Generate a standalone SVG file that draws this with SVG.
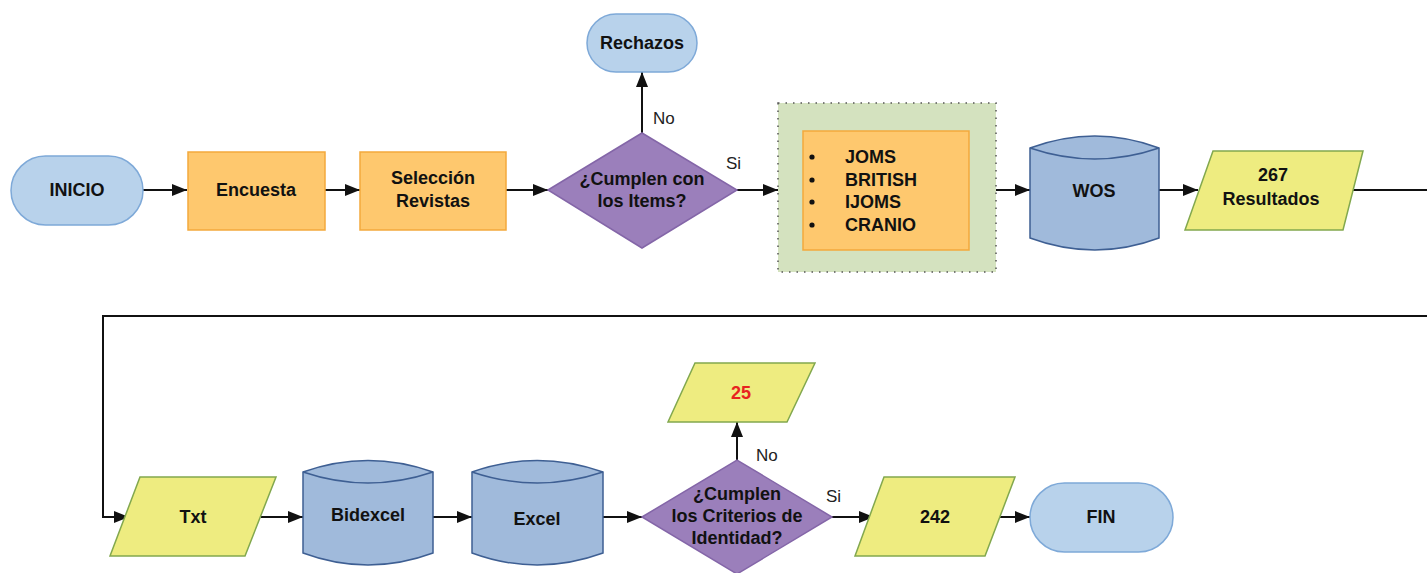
<svg xmlns="http://www.w3.org/2000/svg" width="1427" height="573" viewBox="0 0 1427 573">
<style>
.t{font-family:"Liberation Sans",Arial,sans-serif;font-weight:bold;font-size:18px;fill:#111;text-anchor:middle;dominant-baseline:central}
.lbl{font-family:"Liberation Sans",Arial,sans-serif;font-size:17px;fill:#222;dominant-baseline:central}
.term{fill:#b8d2eb;stroke:#7ea9d8;stroke-width:1.5}
.proc{fill:#fec86e;stroke:#f3a93c;stroke-width:1.5}
.dec{fill:#9b7fbb;stroke:#8466a8;stroke-width:1.5}
.db{fill:#a0badb;stroke:#3e5f93;stroke-width:1.5}
.io{fill:#eeec80;stroke:#82a84e;stroke-width:1.5}
.c{fill:none;stroke:#111;stroke-width:2}
</style>
<defs>
<marker id="ah" viewBox="0 0 15 12" refX="15" refY="6" markerWidth="15" markerHeight="12" markerUnits="userSpaceOnUse" orient="auto">
<path d="M0,0 L15,6 L0,12 z" fill="#111"/>
</marker>
</defs>
<rect width="1427" height="573" fill="#fff"/>
<g id="connectors">
<line class="c" x1="143" y1="190" x2="187" y2="190" marker-end="url(#ah)"/>
<line class="c" x1="325" y1="190" x2="360" y2="190" marker-end="url(#ah)"/>
<line class="c" x1="506" y1="190" x2="548" y2="190" marker-end="url(#ah)"/>
<line class="c" x1="642" y1="133" x2="642" y2="72" marker-end="url(#ah)"/>
<line class="c" x1="737" y1="190" x2="778" y2="190" marker-end="url(#ah)"/>
<line class="c" x1="996" y1="190" x2="1030" y2="190" marker-end="url(#ah)"/>
<line class="c" x1="1159" y1="190" x2="1198" y2="190" marker-end="url(#ah)"/>
<polyline class="c" points="1343,190 1427,190"/>
<polyline class="c" points="1427,316 103,316 103,517 129,517" marker-end="url(#ah)"/>
<line class="c" x1="261" y1="517" x2="303" y2="517" marker-end="url(#ah)"/>
<line class="c" x1="433" y1="517" x2="472" y2="517" marker-end="url(#ah)"/>
<line class="c" x1="603" y1="517" x2="642" y2="517" marker-end="url(#ah)"/>
<line class="c" x1="737" y1="460" x2="737" y2="422" marker-end="url(#ah)"/>
<line class="c" x1="832" y1="517" x2="874" y2="517" marker-end="url(#ah)"/>
<line class="c" x1="1000" y1="517" x2="1030" y2="517" marker-end="url(#ah)"/>
<text class="lbl" x="653" y="118">No</text>
<text class="lbl" x="726" y="163">Si</text>
<text class="lbl" x="756" y="455">No</text>
<text class="lbl" x="826" y="496">Si</text>
</g>
<g id="inicio">
<rect class="term" x="11" y="156" width="132" height="69" rx="34.5"/>
<text class="t" x="77" y="190">INICIO</text>
</g>
<g id="encuesta">
<rect class="proc" x="188" y="152" width="137" height="78"/>
<text class="t" x="256" y="190">Encuesta</text>
</g>
<g id="seleccion">
<rect class="proc" x="360" y="152" width="146" height="78"/>
<text class="t" x="433" y="178">Selección</text>
<text class="t" x="433" y="201">Revistas</text>
</g>
<g id="decision1">
<polygon class="dec" points="548,190 642,133 737,190 642,248"/>
<text class="t" x="642" y="179">¿Cumplen con</text>
<text class="t" x="642" y="201">los Items?</text>
</g>
<g id="rechazos">
<rect class="term" x="587" y="14" width="110" height="58" rx="29"/>
<text class="t" x="642" y="43">Rechazos</text>
</g>
<g id="revistas">
<rect x="778" y="103" width="218" height="169" fill="#d4e2bf" stroke="#555" stroke-width="1.5" stroke-dasharray="1.5,6"/>
<rect class="proc" x="803" y="131" width="166" height="119"/>
<circle cx="812" cy="157" r="2.6" fill="#111"/>
<circle cx="812" cy="180" r="2.6" fill="#111"/>
<circle cx="812" cy="202" r="2.6" fill="#111"/>
<circle cx="812" cy="225" r="2.6" fill="#111"/>
<text class="t" x="845" y="157" style="text-anchor:start">JOMS</text>
<text class="t" x="845" y="180" style="text-anchor:start">BRITISH</text>
<text class="t" x="845" y="202" style="text-anchor:start">IJOMS</text>
<text class="t" x="845" y="225" style="text-anchor:start">CRANIO</text>
</g>
<g id="wos">
<path class="db" d="M1030,148 Q1095,124 1159,148 L1159,238 Q1095,262 1030,238 Z"/>
<path class="db" d="M1030,148 Q1095,170 1159,148" fill="none"/>
<text class="t" x="1094" y="191">WOS</text>
</g>
<g id="resultados">
<polygon class="io" points="1213,151 1363,151 1343,230 1185,230"/>
<text class="t" x="1273" y="175">267</text>
<text class="t" x="1271" y="199">Resultados</text>
</g>
<g id="txt">
<polygon class="io" points="140,477 276,477 245,556 110,556"/>
<text class="t" x="193" y="517">Txt</text>
</g>
<g id="bidexcel">
<path class="db" d="M303,472 Q368,449 433,472 L433,553 Q368,577 303,553 Z"/>
<path class="db" d="M303,472 Q368,494 433,472" fill="none"/>
<text class="t" x="368" y="515">Bidexcel</text>
</g>
<g id="excel">
<path class="db" d="M472,472 Q537,449 603,472 L603,553 Q537,577 472,553 Z"/>
<path class="db" d="M472,472 Q537,494 603,472" fill="none"/>
<text class="t" x="537" y="519">Excel</text>
</g>
<g id="decision2">
<polygon class="dec" points="642,517 737,460 832,517 737,574"/>
<text class="t" x="737" y="494">¿Cumplen</text>
<text class="t" x="737" y="516">los Criterios de</text>
<text class="t" x="737" y="538">Identidad?</text>
</g>
<g id="n25">
<polygon class="io" points="695,363 815,363 787,422 668,422"/>
<text class="t" x="741" y="393" style="fill:#e8231f">25</text>
</g>
<g id="n242">
<polygon class="io" points="884,477 1015,477 985,556 855,556"/>
<text class="t" x="935" y="517">242</text>
</g>
<g id="fin">
<rect class="term" x="1030" y="483" width="143" height="69" rx="34.5"/>
<text class="t" x="1101" y="517">FIN</text>
</g>
</svg>
